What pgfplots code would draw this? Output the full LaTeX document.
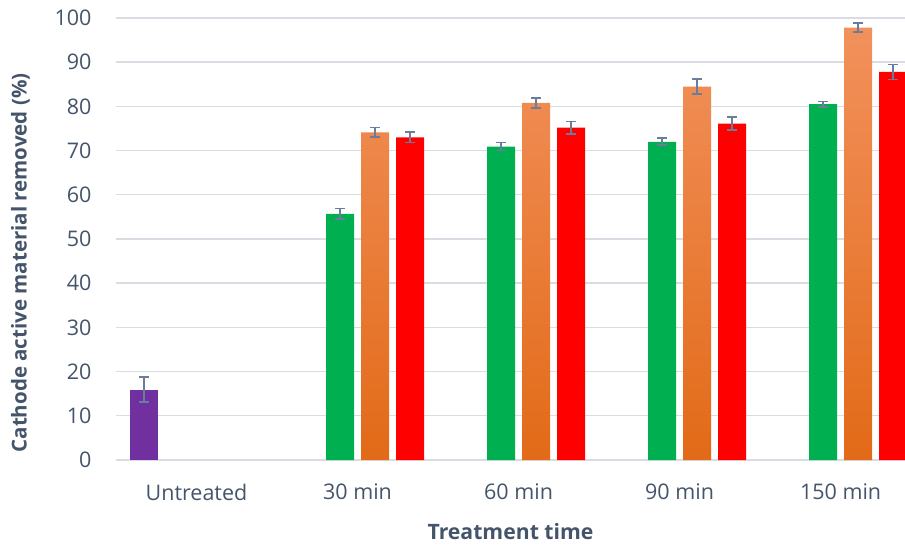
\documentclass[border=0pt]{standalone}
\usepackage{pgfplots}
\pgfplotsset{compat=1.18}
\usepackage{fontspec}
\setmainfont{Open Sans}
\definecolor{txt}{HTML}{44546A}
\definecolor{gridc}{HTML}{D9DDE3}
\definecolor{errc}{HTML}{6A7E9C}
\definecolor{cpurple}{HTML}{7030A0}
\definecolor{cgreen}{HTML}{00B050}
\definecolor{cred}{HTML}{FF0000}
\definecolor{otop}{RGB}{242,145,92}
\definecolor{omid}{RGB}{244,128,50}
\definecolor{obot}{RGB}{226,106,24}
\begin{document}
\begin{tikzpicture}[x=1pt,y=1pt]
\begin{axis}[
  at={(116pt,86pt)}, anchor=south west,
  scale only axis, width=789pt, height=442pt,
  xmin=-0.5, xmax=4.40, ymin=0, ymax=100,
  ytick={0,10,...,100},
  xtick={0,1,2,3,4},
  xticklabels={Untreated,30 min,60 min,90 min,150 min},
  major tick length=0pt,
  axis line style={draw=none},
  ymajorgrids, grid style={gridc, line width=1.4pt},
  /pgf/number format/assume math mode=true,
  tick label style={font=\fontsize{21.5}{25}\selectfont, text=txt},
  yticklabel style={anchor=east, xshift=-21pt},
  xticklabel style={anchor=center, yshift=-32pt},
  xlabel={Treatment time}, ylabel={Cathode active material removed (\%)},
  label style={font=\fontsize{20.5}{24}\selectfont\bfseries, text=txt},
  xlabel style={font=\fontsize{21.2}{24}\selectfont\bfseries, at={(axis description cs:0.5,-0.163)}, anchor=center},
  ylabel style={at={(axis description cs:-0.121,0.446)}, anchor=center},
  ybar=0pt, bar width=28pt,
  error bars/error bar style={draw=errc, line width=1.7pt},
  error bars/error mark options={rotate=90, mark size=5pt, draw=errc, line width=1.7pt},
]
\addplot[fill=cpurple, draw=none, bar shift=-52.5pt,
  error bars/.cd, y dir=both, y explicit]
  coordinates {(0,15.9) +- (0,2.8)};
\addplot[fill=cgreen, draw=none, bar shift=-17.5pt,
  error bars/.cd, y dir=both, y explicit]
  coordinates {(1,55.7) +- (0,1.2) (2,70.9) +- (0,0.9) (3,72.0) +- (0,0.8) (4,80.5) +- (0,0.6)};
\addplot[draw=none, top color=otop, middle color=omid, bottom color=obot, bar shift=17.5pt]
  coordinates {(1,74.1) (2,80.8) (3,84.5) (4,97.8)};
\addplot[draw=none, fill=none, bar shift=17.5pt, forget plot,
  error bars/.cd, y dir=both, y explicit]
  coordinates {(1,74.1) +- (0,1.1) (2,80.8) +- (0,1.1) (3,84.5) +- (0,1.7) (4,97.8) +- (0,1.0)};
\addplot[fill=cred, draw=none, bar shift=52.5pt,
  error bars/.cd, y dir=both, y explicit]
  coordinates {(1,73.0) +- (0,1.2) (2,75.2) +- (0,1.4) (3,76.1) +- (0,1.5) (4,87.8) +- (0,1.7)};
\end{axis}
\pgfresetboundingbox
\path[use as bounding box] (0,0) rectangle (905,546);
\end{tikzpicture}
\end{document}
